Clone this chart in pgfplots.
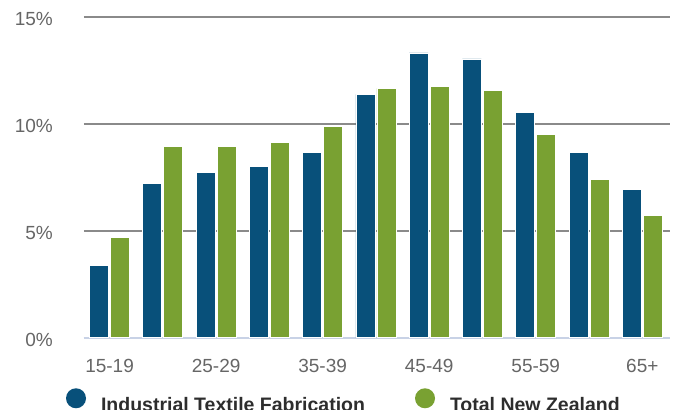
\documentclass[border=0pt]{standalone}
\usepackage{pgfplots}
\pgfplotsset{compat=1.18}
\usepackage{fontspec}
\setmainfont{Liberation Sans}

\definecolor{tfblue}{RGB}{8,80,122}
\definecolor{nzgreen}{RGB}{121,161,50}
\definecolor{gridgrey}{RGB}{138,138,138}
\definecolor{baseblue}{RGB}{200,210,230}
\definecolor{ticktext}{RGB}{102,102,102}
\definecolor{legtext}{RGB}{45,45,45}

\begin{document}
\begin{tikzpicture}
\begin{axis}[
    name=ax,
    scale only axis,
    width=586bp, height=320.7bp,
    ymin=0, ymax=15,
    xmin=-0.48, xmax=10.52,
    ybar=2bp, bar width=19bp,
    xtick={0,2,4,6,8,10},
    xticklabels={15-19,25-29,35-39,45-49,55-59,65+},
    ytick={0,5,10,15},
    yticklabels={0\%,5\%,10\%,15\%},
    /pgf/number format/assume math mode=true,
    ymajorgrids,
    major grid style={gridgrey, line width=2bp},
    major tick length=0pt,
    axis x line*=bottom, axis y line*=left,
    y axis line style={draw=none},
    x axis line style={baseblue, line width=2bp, -},
    yticklabel style={font=\fontsize{19bp}{22bp}\selectfont, text=ticktext,
        inner sep=0pt, anchor=east, xshift=-31bp, yshift=-2bp},
    xticklabel style={font=\fontsize{19bp}{22bp}\selectfont, text=ticktext,
        inner sep=0pt, anchor=north, yshift=-21.6bp},
    legend columns=2,
    legend image code/.code={\fill[draw=none] (10bp,7bp) circle (10bp);},
    legend style={at={(-0.0307,-0.1964)}, anchor=west, draw=none, fill=none,
        inner sep=0pt, outer sep=0pt,
        font=\bfseries\fontsize{19.5bp}{22bp}\selectfont, text=legtext,
        nodes={inner sep=0pt},
        /tikz/every odd column/.append style={column sep=15bp},
        /tikz/every even column/.append style={column sep=50bp}},
]
\addplot[fill=tfblue, draw=white, line width=0.8bp] coordinates {
    (0,3.38) (1,7.20) (2,7.75) (3,8.03) (4,8.67) (5,11.38)
    (6,13.32) (7,13.04) (8,10.53) (9,8.67) (10,6.92)
};
\addplot[fill=nzgreen, draw=white, line width=0.8bp] coordinates {
    (0,4.68) (1,8.95) (2,8.95) (3,9.14) (4,9.89) (5,11.66)
    (6,11.74) (7,11.57) (8,9.52) (9,7.39) (10,5.70)
};
\legend{Industrial Textile Fabrication, Total New Zealand}
\end{axis}
\pgfresetboundingbox
\useasboundingbox ([xshift=-84bp,yshift=-72.3bp]ax.south west) rectangle ([xshift=8bp,yshift=17bp]ax.north east);
\end{tikzpicture}
\end{document}
